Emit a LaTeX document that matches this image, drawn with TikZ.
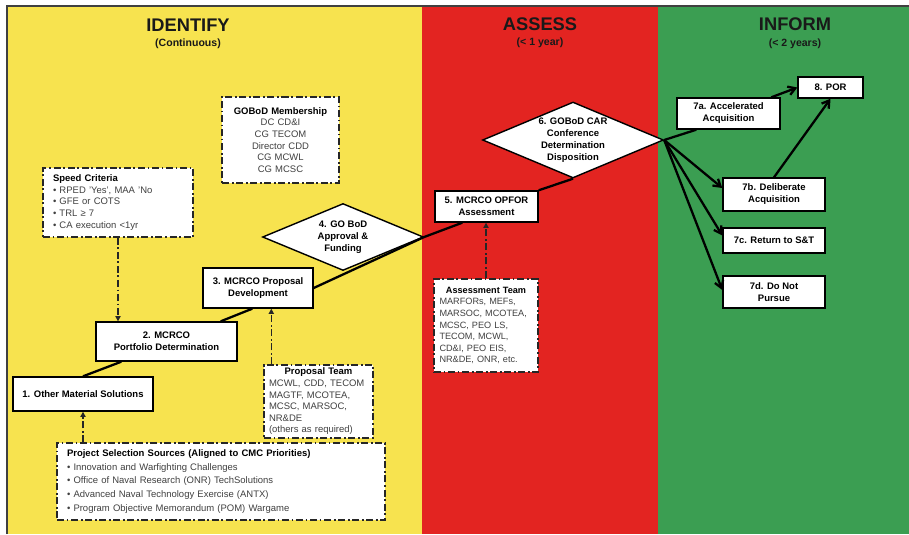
\documentclass[tikz,border=0pt]{standalone}
\usepackage{fontspec}
\setmainfont{Liberation Sans}
\usetikzlibrary{arrows.meta,shapes.geometric}
\definecolor{IdentifyClr}{rgb}{0.97,0.89,0.31}
\definecolor{AssessClr}{rgb}{0.89,0.14,0.13}
\definecolor{InformClr}{rgb}{0.23,0.62,0.32}
\definecolor{FrameClr}{rgb}{0.25,0.25,0.25}

\begin{document}
\begin{tikzpicture}[x=0.02cm,y=-0.02cm,
  proc/.style={draw=black,fill=white,line width=0.8pt,align=center,inner sep=1pt,
    font=\bfseries\fontsize{5.4}{6.8}\selectfont},
  dec/.style={proc,diamond,aspect=2.4,inner sep=0pt},
  note/.style={draw=black!85,fill=white,line width=0.8pt,
    dash pattern=on 4pt off 1.5pt on 1pt off 1.5pt,
    text=black!75,font=\fontsize{5.4}{6.6}\selectfont},
  flow/.style={line width=1.3pt,black},
  flowarrow/.style={flow,-{Straight Barb[length=4pt,width=5pt]}},
  aux/.style={line width=0.7pt,black!85,dash pattern=on 4pt off 1.5pt on 1pt off 1.5pt,
    -{Triangle[length=3pt,width=3pt]}},
  phasetitle/.style={text=black!90,font=\bfseries\fontsize{10.4}{12}\selectfont},
  phasesub/.style={text=black!90,font=\bfseries\fontsize{6}{7}\selectfont}]
\useasboundingbox (0,0) rectangle (909,534);

\fill[IdentifyClr] (8,7) rectangle (422,534);
\fill[AssessClr] (422,7) rectangle (658,534);
\fill[InformClr] (658,7) rectangle (909,534);
\draw[FrameClr,line width=1.1pt] (7,534) -- (7,6) -- (909,6);

\node[phasetitle] (TI) at (188,25) {IDENTIFY};
\node[phasesub] (SI) at (188,44) {(Continuous)};
\node[phasetitle] (TA) at (540,24) {ASSESS};
\node[phasesub] (SA) at (540,43) {(< 1 year)};
\node[phasetitle] (TF) at (795,24) {INFORM};
\node[phasesub] (SF) at (795,44) {(< 2 years)};

\node[proc,minimum width=2.8cm,minimum height=0.68cm] (P1) at (83,394) {1. Other Material Solutions};
\node[proc,minimum width=2.82cm,minimum height=0.78cm] (P2) at (166.5,341.5) {2. MCRCO\\Portfolio Determination};
\node[proc,minimum width=2.2cm,minimum height=0.8cm] (P3) at (258,288) {3. MCRCO Proposal\\Development};
\node[dec,minimum width=3.22cm,minimum height=1.34cm] (P4) at (343,237) {4. GO BoD\\Approval \&\\Funding};
\node[proc,minimum width=2.06cm,minimum height=0.62cm] (P5) at (486.5,206.5) {5. MCRCO OPFOR\\Assessment};
\node[dec,minimum width=3.62cm,minimum height=1.52cm] (P6) at (573,140) {6. GOBoD CAR\\Conference\\Determination\\Disposition};
\node[proc,minimum width=2.06cm,minimum height=0.62cm] (P7a) at (728.5,113.5) {7a. Accelerated\\Acquisition};
\node[proc,minimum width=1.3cm,minimum height=0.42cm] (P8) at (830.5,87.5) {8. POR};
\node[proc,minimum width=2.04cm,minimum height=0.66cm] (P7b) at (774,194.5) {7b. Deliberate\\Acquisition};
\node[proc,minimum width=2.04cm,minimum height=0.5cm] (P7c) at (774,240.5) {7c. Return to S\&T};
\node[proc,minimum width=2.04cm,minimum height=0.64cm] (P7d) at (774,292) {7d. Do Not\\Pursue};

\node[note,minimum width=2.3cm,minimum height=1.72cm,text width=2.1cm,align=center] (Mem) at (280.5,140)
  {{\color{black}\bfseries GOBoD Membership}\\DC CD\&I\\CG TECOM\\Director CDD\\CG MCWL\\CG MCSC};
\node[note,minimum width=3cm,minimum height=1.38cm,text width=2.6cm,align=left] (Spd) at (118,202.5)
  {{\color{black}\bfseries Speed Criteria}\\• RPED 'Yes', MAA 'No\\• GFE or COTS\\• TRL ≥ 7\\• CA execution <1yr};
\node[note,minimum width=2.08cm,minimum height=1.86cm,text width=1.86cm,align=left,inner xsep=0.11cm,
  font=\fontsize{5.2}{6.6}\selectfont] (Team) at (486,325.5)
  {\makebox[\linewidth][c]{\color{black}\bfseries Assessment Team}\\MARFORs, MEFs,\\MARSOC, MCOTEA,\\MCSC, PEO LS,\\TECOM, MCWL,\\CD\&I, PEO EIS,\\NR\&DE, ONR, etc.};
\node[note,minimum width=2.18cm,minimum height=1.46cm,text width=1.98cm,align=left,inner xsep=0.1cm,inner ysep=1pt] (Prop) at (318.5,401.5)
  {\makebox[\linewidth][c]{\color{black}\bfseries Proposal Team}\\MCWL, CDD, TECOM\\MAGTF, MCOTEA,\\MCSC, MARSOC,\\NR\&DE\\(others as required)};
\node[note,minimum width=6.56cm,minimum height=1.54cm,text width=6.16cm,align=left,font=\fontsize{5.4}{7.7}\selectfont] (Src) at (221,481.5)
  {{\color{black}\bfseries Project Selection Sources (Aligned to CMC Priorities)}\\• Innovation and Warfighting Challenges\\• Office of Naval Research (ONR) TechSolutions\\• Advanced Naval Technology Exercise (ANTX)\\• Program Objective Memorandum (POM) Wargame};

\draw[flow] (P1.north) -- ([xshift=0.52cm]P2.south west);
\draw[flow] ([xshift=-0.34cm]P2.north east) -- ([xshift=1cm]P3.south west);
\draw[flow] (P3.east) -- (P4.east) -- ([xshift=0.56cm]P5.south west);
\draw[flow] (P5.north east) -- (P6.south);
\draw[flow] (P6.east) -- ([xshift=0.4cm]P7a.south west);
\draw[flowarrow] ([xshift=1.9cm]P7a.north west) -- (P8.west);
\foreach \t/\s in {P7b/0.13,P7c/0.1,P7d/0.04}
  \draw[flowarrow] (P6.east) -- ([yshift=\s cm]\t.west);
\draw[flowarrow] (P7b.north) -- (P8.south);

\draw[aux] (Spd.south) -- (Spd.south |- P2.north);
\coordinate (PropTop) at ([xshift=0.16cm]Prop.north west);
\draw[aux] (PropTop) -- (PropTop |- P3.south);
\draw[aux] (Team.north) -- (Team.north |- P5.south);
\draw[aux] (P1.south |- Src.north) -- (P1.south);

\end{tikzpicture}
\end{document}
